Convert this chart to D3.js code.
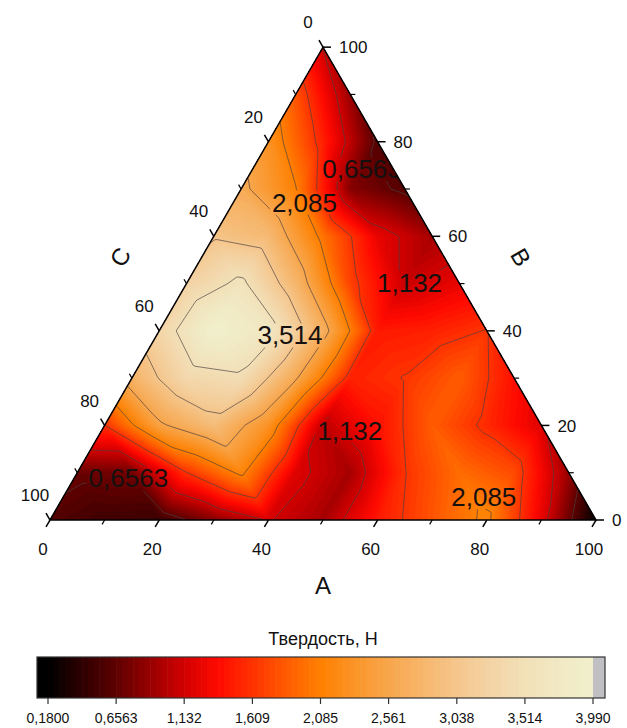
<!DOCTYPE html>
<html>
<head>
<meta charset="utf-8">
<script src="https://cdn.jsdelivr.net/npm/d3@7"></script>
<style>
  body { margin: 0; background: #fff; }
  text { font-family: "Liberation Sans", Arial, sans-serif; fill: #111; }
</style>
</head>
<body>
<svg id="chart" width="627" height="728"></svg>
<script>
// Hardness measured on a ternary grid with a step of 10 %.
// Row k holds B = 10k; entries run over A = 0, 10, ..., 100 - B (C = 100 - A - B).
const gridStep = 10;
const hardnessB0   = [0.60, 0.50, 0.48, 0.82, 1.15, 0.95, 1.45, 1.80, 2.15, 1.25, 0.18];
const hardnessB10  = [0.70, 0.74, 1.60, 2.15, 1.20, 0.95, 1.60, 1.95, 1.75, 0.90];
const hardnessB20  = [1.60, 2.50, 2.90, 2.30, 1.05, 1.40, 1.85, 1.55, 1.20];
const hardnessB30  = [2.75, 3.35, 3.45, 2.60, 1.50, 1.62, 1.85, 1.40];
const hardnessB40  = [3.30, 3.99, 3.70, 2.70, 1.45, 1.50, 1.62];
const hardnessB50  = [3.25, 3.60, 2.80, 1.70, 1.10, 1.25];
const hardnessB60  = [3.00, 2.85, 2.00, 1.25, 0.95];
const hardnessB70  = [2.65, 2.10, 0.82, 0.60];
const hardnessB80  = [2.30, 1.50, 0.60];
const hardnessB90  = [1.80, 0.90];
const hardnessB100 = [1.12];
const hardnessRows = [hardnessB0, hardnessB10, hardnessB20, hardnessB30, hardnessB40,
                      hardnessB50, hardnessB60, hardnessB70, hardnessB80, hardnessB90, hardnessB100];

// Colour-scale levels (also the contour line levels)
const levels = [0.18, 0.6563, 1.132, 1.609, 2.085, 2.561, 3.038, 3.514, 3.99];
const lineLevels = levels.slice(1, -1);

// Palette stops for the hardness colour map
const paletteValues = [0.18, 0.42, 0.6563, 0.894, 1.132, 1.37, 1.609, 1.847, 2.085,
                       2.323, 2.561, 2.80, 3.038, 3.276, 3.514, 3.752, 3.99];
const paletteColors = ["#000000", "#2e0000", "#5e0000", "#980000", "#d20000", "#ff0a00",
                       "#ff3200", "#ff5c00", "#ff8000", "#fb9428", "#f8a64c", "#f6b66c",
                       "#f5c68c", "#f3d4a6", "#f2e0b8", "#f1e9c4", "#f1f0cc"];
const belowColor = "#000000";
const aboveColor = "#c0c0c4";

// Axis ticks
const majorTicks = [0, 20, 40, 60, 80, 100];
const minorTicks = [10, 30, 50, 70, 90];

// Contour labels: composition (A, B) and level
const labelA     = [20.0, 13.0, 40.7, 24.4, 45.4, 9.9, 77.0];
const labelB     = [74.3, 67.2, 50.3, 39.1, 19.0, 8.9, 4.9];
const labelLevel = [0.6563, 2.085, 1.132, 3.514, 1.132, 0.6563, 2.085];

const colorbarTitle = "Твердость, Н";

// ---------------------------------------------------------------------------
const svg = d3.select("#chart");
const side = 546, x0 = 50, yBase = 520;
const triH = side * Math.sqrt(3) / 2;
const xs = d3.scaleLinear().domain([0, 100]).range([x0, x0 + side]);
const ys = d3.scaleLinear().domain([0, 100]).range([yBase, yBase - triH]);
const project = (a, b) => [xs(a + b / 2), ys(b)];

const locale = d3.formatLocale({decimal: ",", thousands: " ", grouping: [3], currency: ["", ""]});
const fmt = locale.format(".4r");

const cmap = d3.scaleLinear().domain(paletteValues).range(paletteColors)
  .interpolate(d3.interpolateRgb).clamp(true);

// Linear interpolation inside the triangular grid cells
function valueAt(a, b) {
  b = Math.max(0, Math.min(100, b));
  a = Math.max(0, Math.min(100 - b, a));
  const n = 100 / gridStep;
  const i = a / gridStep, j = b / gridStep;
  const j0 = Math.min(Math.floor(j), n - 1);
  const i0 = Math.max(0, Math.min(Math.floor(i), n - 1 - j0));
  const fi = i - i0, fj = j - j0;
  const v = (ii, jj) => hardnessRows[jj][ii];
  if (fi + fj <= 1 || i0 + j0 > n - 2) {
    return v(i0, j0) * (1 - fi - fj) + v(i0 + 1, j0) * fi + v(i0, j0 + 1) * fj;
  }
  return v(i0 + 1, j0 + 1) * (fi + fj - 1) + v(i0 + 1, j0) * (1 - fj) + v(i0, j0 + 1) * (1 - fi);
}

// Sample the field on a raster covering the triangle
const cell = 2, gx0 = 36, gy0 = 36;
const nx = Math.ceil((612 - gx0) / cell), ny = Math.ceil((532 - gy0) / cell);
const field = new Float64Array(nx * ny);
for (let r = 0; r < ny; r++) {
  for (let c = 0; c < nx; c++) {
    const px = gx0 + (c + 0.5) * cell, py = gy0 + (r + 0.5) * cell;
    const b = ys.invert(py);
    const a = xs.invert(px) - b / 2;
    field[r * nx + c] = valueAt(a, b);
  }
}
const gridToPx = d3.geoTransform({
  point(x, y) { this.stream.point(gx0 + x * cell, gy0 + y * cell); }
});
const gpath = d3.geoPath(gridToPx);

const defs = svg.append("defs");
const triPts = [project(0, 0), project(100, 0), project(0, 100)];
const triD = "M" + triPts.map(p => p.join(",")).join("L") + "Z";
defs.append("clipPath").attr("id", "tri").append("path").attr("d", triD);

// Fine colour bands
const nBands = 96;
const bandStep = (levels[levels.length - 1] - levels[0]) / nBands;
const bandThresholds = d3.range(nBands).map(k => levels[0] + k * bandStep);
const bandContours = d3.contours().size([nx, ny]).thresholds(bandThresholds)(field);

const plot = svg.append("g").attr("clip-path", "url(#tri)");
plot.append("path").attr("d", triD).attr("fill", belowColor);
plot.append("g").selectAll("path").data(bandContours).join("path")
  .attr("d", gpath)
  .attr("fill", d => cmap(d.value + bandStep / 2))
  .attr("stroke", d => cmap(d.value + bandStep / 2))
  .attr("stroke-width", 0.4);

// Contour labels (measured first for the line mask)
const labelData = labelA.map((a, k) => ({a, b: labelB[k], level: labelLevel[k]}));
const labelG = plot.append("g");
const labels = labelG.selectAll("text").data(labelData).join("text")
  .attr("x", d => project(d.a, d.b)[0])
  .attr("y", d => project(d.a, d.b)[1])
  .attr("text-anchor", "middle")
  .attr("dy", "0.36em")
  .attr("font-size", 26)
  .style("fill", "#151010")
  .text(d => fmt(d.level));

const mask = defs.append("mask").attr("id", "lineMask").attr("maskUnits", "userSpaceOnUse")
  .attr("x", 0).attr("y", 0).attr("width", 627).attr("height", 728);
mask.append("rect").attr("width", 627).attr("height", 728).attr("fill", "#fff");
labels.each(function () {
  const bb = this.getBBox();
  mask.append("rect").attr("x", bb.x - 2).attr("y", bb.y + 3)
    .attr("width", bb.width + 4).attr("height", bb.height - 6).attr("fill", "#000");
});

// Contour lines
const lineContours = d3.contours().size([nx, ny]).thresholds(lineLevels)(field);
plot.insert("g", () => labelG.node())
  .attr("mask", "url(#lineMask)")
  .selectAll("path").data(lineContours).join("path")
  .attr("d", gpath)
  .attr("fill", "none")
  .attr("stroke", "#4a4040")
  .attr("stroke-opacity", 0.75)
  .attr("stroke-width", 0.9);

// Triangle frame
svg.append("path").attr("d", triD)
  .attr("fill", "none").attr("stroke", "#000").attr("stroke-width", 1.5);

// Axes: bottom = A, right = B, left = C
const s3 = Math.sqrt(3) / 2;
const axes = [
  {pos: v => project(v, 0),       dir: [-0.5, s3],  lab: p => [p[0] - 7, p[1] + 29],  anchor: "middle"},
  {pos: v => project(100 - v, v), dir: [1, 0],      lab: p => [p[0] + 16, p[1]],      anchor: "start"},
  {pos: v => project(0, 100 - v), dir: [-0.5, -s3], lab: p => [p[0] - 15, p[1] - 25], anchor: "middle"}
];
const axG = svg.append("g");
axes.forEach(ax => {
  axG.append("g").selectAll("line").data(majorTicks).join("line")
    .attr("x1", v => ax.pos(v)[0]).attr("y1", v => ax.pos(v)[1])
    .attr("x2", v => ax.pos(v)[0] + ax.dir[0] * 8).attr("y2", v => ax.pos(v)[1] + ax.dir[1] * 8)
    .attr("stroke", "#000").attr("stroke-width", 1.5);
  axG.append("g").selectAll("line").data(minorTicks).join("line")
    .attr("x1", v => ax.pos(v)[0]).attr("y1", v => ax.pos(v)[1])
    .attr("x2", v => ax.pos(v)[0] + ax.dir[0] * 5).attr("y2", v => ax.pos(v)[1] + ax.dir[1] * 5)
    .attr("stroke", "#000").attr("stroke-width", 1.2);
  axG.append("g").selectAll("text").data(majorTicks).join("text")
    .attr("x", v => ax.lab(ax.pos(v))[0]).attr("y", v => ax.lab(ax.pos(v))[1])
    .attr("dy", "0.36em").attr("text-anchor", ax.anchor)
    .attr("font-size", 17)
    .text(v => v);
});

// Axis titles
svg.append("text").attr("x", 323).attr("y", 585).attr("dy", "0.36em")
  .attr("text-anchor", "middle").attr("font-size", 24).text("A");
svg.append("text").attr("transform", "translate(521,257) rotate(60)").attr("dy", "0.36em")
  .attr("text-anchor", "middle").attr("font-size", 24).text("B");
svg.append("text").attr("transform", "translate(120,257) rotate(-60)").attr("dy", "0.36em")
  .attr("text-anchor", "middle").attr("font-size", 24).text("C");

// Colour bar
const cbx = d3.scaleLinear().domain([levels[0], levels[levels.length - 1]]).range([48, 593]);
const cbTop = 657, cbH = 41;
const cbG = svg.append("g");
cbG.append("rect").attr("x", 37).attr("y", cbTop).attr("width", cbx(levels[0]) - 37)
  .attr("height", cbH).attr("fill", belowColor);
cbG.append("g").selectAll("rect").data(bandThresholds).join("rect")
  .attr("x", d => cbx(d)).attr("y", cbTop)
  .attr("width", cbx(bandThresholds[0] + bandStep) - cbx(bandThresholds[0]) + 0.6)
  .attr("height", cbH)
  .attr("fill", d => cmap(d + bandStep / 2));
cbG.append("rect").attr("x", cbx(levels[levels.length - 1])).attr("y", cbTop)
  .attr("width", 605 - cbx(levels[levels.length - 1])).attr("height", cbH).attr("fill", aboveColor);
cbG.append("rect").attr("x", 37).attr("y", cbTop).attr("width", 568).attr("height", cbH)
  .attr("fill", "none").attr("stroke", "#333").attr("stroke-width", 1.2);
cbG.append("g").selectAll("line").data(levels).join("line")
  .attr("x1", d => cbx(d)).attr("x2", d => cbx(d))
  .attr("y1", cbTop + cbH).attr("y2", cbTop + cbH + 6)
  .attr("stroke", "#333").attr("stroke-width", 1.2);
cbG.append("g").selectAll("text").data(levels).join("text")
  .attr("x", d => cbx(d)).attr("y", 718).attr("dy", "0.36em")
  .attr("text-anchor", "middle").attr("font-size", 14)
  .text(d => fmt(d));
cbG.append("text").attr("x", 323).attr("y", 639).attr("dy", "0.36em")
  .attr("text-anchor", "middle").attr("font-size", 18).text(colorbarTitle);
</script>
</body>
</html>
